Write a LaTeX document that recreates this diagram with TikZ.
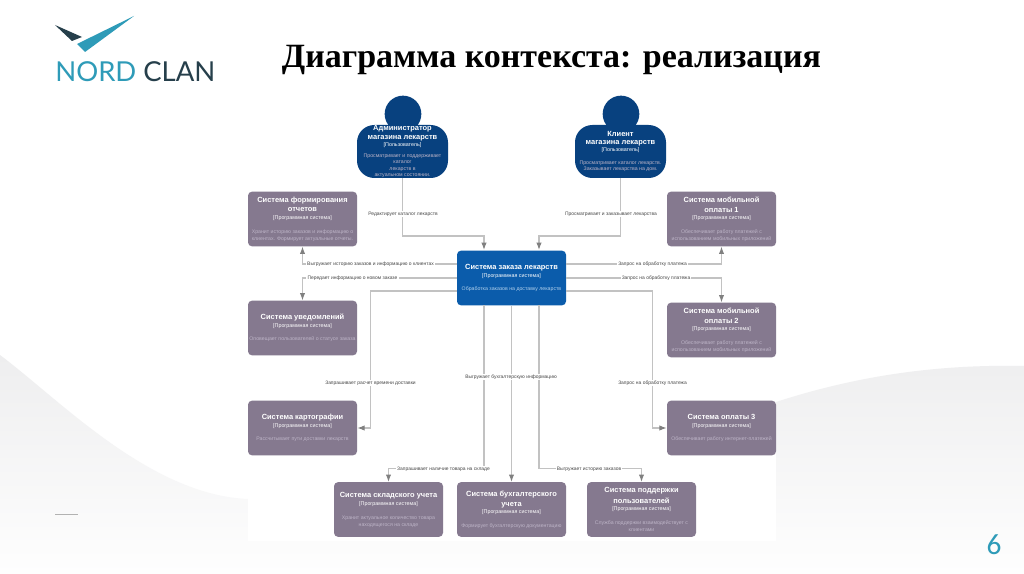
\documentclass[tikz,border=0pt]{standalone}
\usepackage{fontspec}
\setmainfont{Liberation Sans}
\newfontfamily\titlefont{Liberation Serif}
\newfontfamily\logofont{Lato}
\newfontfamily\pagefont{Carlito}
\usetikzlibrary{arrows.meta,positioning,calc}
\definecolor{systemgrey}{HTML}{85798F}
\definecolor{systemblue}{HTML}{0B5CAB}
\definecolor{personblue}{HTML}{08417F}
\definecolor{descgrey}{HTML}{BDB4C7}
\definecolor{descblue}{HTML}{B3D1EC}
\definecolor{linkgrey}{HTML}{C2C2C2}
\definecolor{tipgrey}{HTML}{808080}
\definecolor{logoteal}{HTML}{2E9BB8}
\definecolor{logodark}{HTML}{263F4B}
\definecolor{wavetop}{HTML}{EEEEEF}
\definecolor{wavebottom}{HTML}{FEFEFE}
\newcommand{\sysname}[1]{{\bfseries\fontsize{5.6}{7}\selectfont #1}}
\newcommand{\systag}{{\fontsize{4}{5}\selectfont [Программная система]}}
\newcommand{\usertag}{{\fontsize{4}{5}\selectfont [Пользователь]}}
\newcommand{\sysdesc}[1]{{\fontsize{3.9}{5}\selectfont\color{descgrey}#1}}
\newcommand{\maindesc}[1]{{\fontsize{3.9}{5}\selectfont\color{descblue}#1}}
\tikzset{
  sysbox/.style={
    rectangle,
    fill=systemgrey,
    text=white,
    rounded corners=3pt,
    align=center,
    minimum width=81.75pt,
    minimum height=41pt,
    inner sep=0pt,
    font=\fontsize{4}{5.25}\selectfont
  },
  mainbox/.style={
    sysbox,
    fill=systemblue
  },
  personbody/.style={
    sysbox,
    fill=personblue,
    rounded corners=13pt,
    minimum width=68.25pt,
    minimum height=39.75pt,
    font=\fontsize{4}{4.7}\selectfont
  },
  personhead/.style={
    circle,
    fill=personblue,
    minimum size=27.5pt,
    inner sep=0pt
  },
  linkarrow/.style={
    -{Latex[length=5.5pt,width=4pt,color=tipgrey]},
    line width=0.8pt,
    draw=linkgrey
  },
  linklabel/.style={
    fill=white,
    inner sep=0.8pt,
    text=black!72,
    font=\fontsize{3.7}{4.5}\selectfont
  }
}
\begin{document}
\begin{tikzpicture}[x=0.75pt,y=-0.75pt]
  \useasboundingbox (0,0) rectangle (1024,574);
  % page background
  \fill[white] (0,0) rectangle (1024,574);
  \shade[top color=wavetop,bottom color=wavebottom] (0,355) .. controls (60,400) and (150,495) .. (248,499)
    -- (776,402) .. controls (850,378) and (930,364) .. (1024,366) -- (1024,574) -- (0,574) -- cycle;
  \fill[white] (248,90) rectangle (776,541);
  \draw[black!30,line width=0.5pt] (55,514) -- (78,514);

  % logo
  \fill[logodark] (55,25) -- (82,37) -- (72,41) -- cycle;
  \fill[logoteal] (134,16) -- (77,44) -- (85,52) -- cycle;
  \node[anchor=base west,inner sep=0pt,font=\logofont\fontsize{20.6}{24}\selectfont] (logo) at (55,81.5)
    {\textcolor{logoteal}{NORD} \textcolor{logodark}{CLAN}};

  \node[font=\titlefont\bfseries\fontsize{25.5}{30}\selectfont] (title) at (551.5,60) {Диаграмма контекста: реализация};
  \node[text=logoteal,font=\pagefont\fontsize{22}{26}\selectfont] (pagenum) at (994,545) {6};

  % people
  \node[personhead] (adminhead) at (403,114) {};
  \node[personhead] (clienthead) at (621,114) {};
  \node[personbody] (admin) at (402.5,151.5) {\sysname{Администратор}\\[1.8pt]\sysname{магазина лекарств}\\[0.4pt]\usertag\\[4pt]
    \sysdesc{Просматривает и поддерживает}\\\sysdesc{каталог}\\\sysdesc{лекарств в}\\\sysdesc{актуальном состоянии.}};
  \node[personbody] (client) at (620.5,151.5) {\sysname{Клиент}\\[1.8pt]\sysname{магазина лекарств}\\[0.4pt]\usertag\\[5pt]
    \sysdesc{Просматривает каталог лекарств.}\\\sysdesc{Заказывает лекарства на дом.}};

  % systems
  \node[mainbox] (order) at (511.5,278) {\sysname{Система заказа лекарств}\\[1pt]\systag\\[4.5pt]\maindesc{Обработка заказов на доставку лекарств}};
  \node[sysbox] (reports) at (302.5,219) {\sysname{Система формирования}\\[2.2pt]\sysname{отчетов}\\[0.5pt]\systag\\[5pt]
    \sysdesc{Хранит историю заказов и информацию о}\\\sysdesc{клиентах. Формирует актуальные отчеты.}};
  \node[sysbox] (notify) at (302.5,328) {\sysname{Система уведомлений}\\[1pt]\systag\\[4.5pt]\sysdesc{Оповещает пользователей о статусе заказа}};
  \node[sysbox] (maps) at (302.5,428) {\sysname{Система картографии}\\[1pt]\systag\\[4.5pt]\sysdesc{Рассчитывает пути доставки лекарств}};
  \node[sysbox] (mobileone) at (721.5,219) {\sysname{Система мобильной}\\[2.2pt]\sysname{оплаты 1}\\[0.5pt]\systag\\[5pt]
    \sysdesc{Обеспечивает работу платежей с}\\\sysdesc{использованием мобильных приложений}};
  \node[sysbox] (mobiletwo) at (721.5,330) {\sysname{Система мобильной}\\[2.2pt]\sysname{оплаты 2}\\[0.5pt]\systag\\[5pt]
    \sysdesc{Обеспечивает работу платежей с}\\\sysdesc{использованием мобильных приложений}};
  \node[sysbox] (paythree) at (721.5,428) {\sysname{Система оплаты 3}\\[1pt]\systag\\[4.5pt]\sysdesc{Обеспечивает работу интернет-платежей}};
  \node[sysbox] (stock) at (388.5,509.5) {\sysname{Система складского учета}\\[1pt]\systag\\[5pt]
    \sysdesc{Хранит актуальное количество товара}\\\sysdesc{находящегося на складе}};
  \node[sysbox] (account) at (511.5,509.5) {\sysname{Система бухгалтерского}\\[2.2pt]\sysname{учета}\\[0.5pt]\systag\\[5pt]\sysdesc{Формирует бухгалтерскую документацию}};
  \node[sysbox] (support) at (641.5,509.5) {\sysname{Система поддержки}\\[1.6pt]\sysname{пользователей}\\[0.5pt]\systag\\[5pt]
    \sysdesc{Служба поддержки взаимодействует с}\\\sysdesc{клиентами}};

  % ports on the main system
  \coordinate (ordertopl) at (484,250);
  \coordinate (ordertopr) at (539,250);
  \coordinate (orderbotl) at (484,305);
  \coordinate (orderbotr) at (539,305);
  \coordinate (orderwa) at (457,264);
  \coordinate (orderwb) at (457,278);
  \coordinate (orderwc) at (457,291);
  \coordinate (orderea) at (566,264);
  \coordinate (ordereb) at (566,278);
  \coordinate (orderec) at (566,291);

  \draw[linkarrow] (admin.south) |- ($(ordertopl)+(0,-14)$) -- (ordertopl);
  \draw[linkarrow] (client.south) |- ($(ordertopr)+(0,-14)$) -- (ordertopr);
  \draw[linkarrow] (orderwa) -| (reports.south);
  \draw[linkarrow] (orderwb) -| (notify.north);
  \draw[linkarrow] (orderwc) -| ($(maps.east)+(13,0)$) -- (maps.east);
  \draw[linkarrow] (orderea) -| (mobileone.south);
  \draw[linkarrow] (ordereb) -| (mobiletwo.north);
  \draw[linkarrow] (orderec) -| ($(paythree.west)+(-14,0)$) -- (paythree.west);
  \draw[linkarrow] (orderbotl) |- ($(stock.north)+(0,-13)$) -- (stock.north);
  \draw[linkarrow] (order.south) -- (account.north);
  \draw[linkarrow] (orderbotr) |- ($(support.north)+(0,-13)$) -- (support.north);

  \node[linklabel] (adminlink) at (403,214) {Редактирует каталог лекарств};
  \node[linklabel] (clientlink) at (611,214) {Просматривает и заказывает лекарства};
  \node[linklabel] (reportslink) at (370.5,264) {Выгружает историю заказов и информацию о клиентах};
  \node[linklabel] (notifylink) at (352.5,278) {Передает информацию о новом заказе};
  \node[linklabel] (mapslink) at (370.5,383) {Запрашивает расчет времени доставки};
  \node[linklabel] (mobileonelink) at (652.5,264) {Запрос на обработку платежа};
  \node[linklabel] (mobiletwolink) at (656,278) {Запрос на обработку платежа};
  \node[linklabel] (paythreelink) at (652.5,383) {Запрос на обработку платежа};
  \node[linklabel] (stocklink) at (443.5,469) {Запрашивает наличие товара на складе};
  \node[linklabel] (accountlink) at (511,377) {Выгружает бухгалтерскую информацию};
  \node[linklabel] (supportlink) at (589,469) {Выгружает историю заказов};
\end{tikzpicture}
\end{document}
